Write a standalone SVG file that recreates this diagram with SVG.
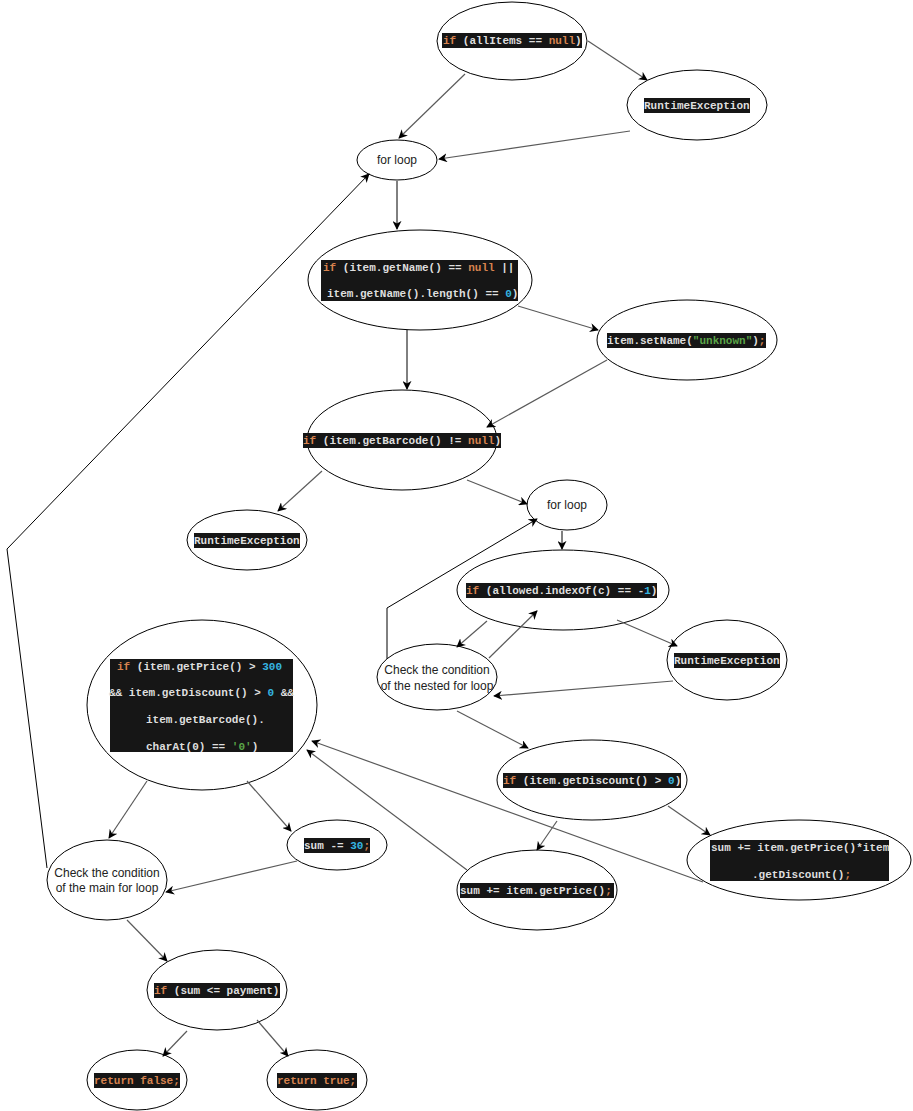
<svg xmlns="http://www.w3.org/2000/svg" width="913" height="1111" viewBox="0 0 913 1111">
<style>
.n{fill:#fff;stroke:#000;stroke-width:1}
.bg{fill:#161616}
.c{font-family:"Liberation Mono","DejaVu Sans Mono",monospace;font-size:11px;font-weight:bold;fill:#dedede;white-space:pre}
.k{fill:#d7834f}
.b{fill:#35b4e0}
.s{fill:#5aa548}
.t{font-family:"Liberation Sans",Arial,sans-serif;font-size:12px;fill:#222;text-anchor:middle}
.e{fill:none;stroke:#5a5a5a;stroke-width:1.2;marker-end:url(#arr)}
.eb{fill:none;stroke:#000;stroke-width:1;marker-end:url(#arr)}
</style>
<defs>
<marker id="arr" viewBox="0 0 10 10" refX="9" refY="5" markerWidth="9" markerHeight="9" markerUnits="userSpaceOnUse" orient="auto">
<path d="M0,0 L10,5 L0,10 L3,5 z" fill="#000"/>
</marker>
</defs>
<rect width="913" height="1111" fill="#fff"/>

<g id="n1">
<ellipse class="n" cx="512" cy="41" rx="75" ry="39"/>
<rect class="bg" x="442" y="33" width="140" height="15"/>
<text class="c" x="443" y="44"><tspan class="k">if</tspan> (allItems == <tspan class="k">null</tspan>)</text>
</g>
<g id="n2">
<ellipse class="n" cx="697" cy="105" rx="70" ry="35"/>
<rect class="bg" x="644" y="98" width="106" height="15"/>
<text class="c" x="644" y="109">RuntimeException</text>
</g>
<g id="n3">
<ellipse class="n" cx="397" cy="160" rx="40" ry="20"/>
<text class="t" x="397" y="164">for loop</text>
</g>
<g id="n4">
<ellipse class="n" cx="420" cy="280" rx="112" ry="50"/>
<rect class="bg" x="321" y="260" width="197" height="41"/>
<text class="c" x="323" y="271"><tspan class="k">if</tspan> (item.getName() == <tspan class="k">null</tspan> ||</text>
<text class="c" x="327" y="297">item.getName().length() == <tspan class="b">0</tspan>)</text>
</g>
<g id="n5">
<ellipse class="n" cx="687" cy="340" rx="90" ry="40"/>
<rect class="bg" x="607" y="333" width="159" height="15"/>
<text class="c" x="607" y="344">item.setName(<tspan class="s">"unknown"</tspan>)<tspan class="k">;</tspan></text>
</g>
<g id="n6">
<ellipse class="n" cx="402" cy="440" rx="95" ry="50"/>
<rect class="bg" x="303" y="433" width="198" height="15"/>
<text class="c" x="303" y="444"><tspan class="k">if</tspan> (item.getBarcode() != <tspan class="k">null</tspan>)</text>
</g>
<g id="n7">
<ellipse class="n" cx="567" cy="505" rx="40" ry="25"/>
<text class="t" x="567" y="509">for loop</text>
</g>
<g id="n8">
<ellipse class="n" cx="563" cy="590" rx="106" ry="40"/>
<rect class="bg" x="466" y="583" width="191" height="15"/>
<text class="c" x="466" y="594"><tspan class="k">if</tspan> (allowed.indexOf(c) == -<tspan class="b">1</tspan>)</text>
</g>
<g id="n9">
<ellipse class="n" cx="727" cy="660" rx="60" ry="40"/>
<rect class="bg" x="674" y="653" width="106" height="15"/>
<text class="c" x="674" y="664">RuntimeException</text>
</g>
<g id="n10">
<ellipse class="n" cx="437" cy="677" rx="60" ry="33"/>
<text class="t" x="437" y="674">Check the condition</text>
<text class="t" x="437" y="690">of the nested for loop</text>
</g>
<g id="n11">
<ellipse class="n" cx="247" cy="540" rx="60" ry="30"/>
<rect class="bg" x="194" y="533" width="106" height="15"/>
<text class="c" x="194" y="544">RuntimeException</text>
</g>
<g id="n12">
<ellipse class="n" cx="202" cy="705" rx="115" ry="85"/>
<rect class="bg" x="110" y="659" width="183" height="93"/>
<text class="c" x="117" y="670"><tspan class="k">if</tspan> (item.getPrice() &gt; <tspan class="b">300</tspan></text>
<text class="c" x="109" y="696">&amp;&amp; item.getDiscount() &gt; <tspan class="b">0</tspan> &amp;&amp;</text>
<text class="c" x="146" y="723">item.getBarcode().</text>
<text class="c" x="146" y="750">charAt(0) == <tspan class="s">'0'</tspan>)</text>
</g>
<g id="n13">
<ellipse class="n" cx="337" cy="845" rx="50" ry="25"/>
<rect class="bg" x="304" y="838" width="66" height="15"/>
<text class="c" x="304" y="849">sum -= <tspan class="b">30</tspan><tspan class="k">;</tspan></text>
</g>
<g id="n14">
<ellipse class="n" cx="107" cy="880" rx="60" ry="40"/>
<text class="t" x="107" y="877">Check the condition</text>
<text class="t" x="107" y="892">of the main for loop</text>
</g>
<g id="n15">
<ellipse class="n" cx="592" cy="780" rx="95" ry="40"/>
<rect class="bg" x="503" y="773" width="178" height="15"/>
<text class="c" x="503" y="784"><tspan class="k">if</tspan> (item.getDiscount() &gt; <tspan class="b">0</tspan>)</text>
</g>
<g id="n16">
<ellipse class="n" cx="537" cy="890" rx="80" ry="40"/>
<rect class="bg" x="460" y="883" width="154" height="15"/>
<text class="c" x="460" y="894">sum += item.getPrice()<tspan class="k">;</tspan></text>
</g>
<g id="n17">
<ellipse class="n" cx="799" cy="860" rx="112" ry="40"/>
<rect class="bg" x="710" y="840" width="179" height="41"/>
<text class="c" x="711" y="851">sum += item.getPrice()*item</text>
<text class="c" x="752" y="878">.getDiscount()<tspan class="k">;</tspan></text>
</g>
<g id="n18">
<ellipse class="n" cx="217" cy="990" rx="70" ry="40"/>
<rect class="bg" x="154" y="983" width="126" height="15"/>
<text class="c" x="154" y="994"><tspan class="k">if</tspan> (sum &lt;= payment)</text>
</g>
<g id="n19">
<ellipse class="n" cx="137" cy="1080" rx="50" ry="30"/>
<rect class="bg" x="94" y="1073" width="86" height="15"/>
<text class="c k" x="94" y="1084">return false;</text>
</g>
<g id="n20">
<ellipse class="n" cx="317" cy="1080" rx="50" ry="30"/>
<rect class="bg" x="277" y="1073" width="80" height="15"/>
<text class="c k" x="277" y="1084">return true;</text>
</g>

<g id="connectors">
<path class="e" d="M588,41 L647,80"/>
<path class="e" d="M465,74 L399,138"/>
<path class="e" d="M630,131 L439,159"/>
<path class="eb" d="M397,181 L397,229"/>
<path class="eb" d="M407,330 L407,389"/>
<path class="e" d="M518,306 L598,330"/>
<path class="e" d="M607,360 L487,427"/>
<path class="e" d="M322,471 L278,511"/>
<path class="e" d="M467,480 L527,504"/>
<path class="eb" d="M562,531 L562,549"/>
<path class="e" d="M487,621 L457,647"/>
<path class="e" d="M489,658 L537,611"/>
<path class="e" d="M617,620 L677,646"/>
<path class="e" d="M673,681 L494,696"/>
<path class="eb" d="M387,659 L387,608 L537,519"/>
<path class="e" d="M457,711 L528,748"/>
<path class="e" d="M557,821 L537,850"/>
<path class="e" d="M668,806 L710,835"/>
<path class="e" d="M467,870 L307,750"/>
<path class="e" d="M703,882 L312,741"/>
<path class="e" d="M147,781 L109,838"/>
<path class="e" d="M247,781 L291,831"/>
<path class="e" d="M297,861 L166,892"/>
<path class="e" d="M127,920 L167,961"/>
<path class="e" d="M187,1031 L163,1056"/>
<path class="e" d="M257,1020 L288,1056"/>
<path class="eb" d="M47,868 L7,549 L369,174"/>
</g>
</svg>
